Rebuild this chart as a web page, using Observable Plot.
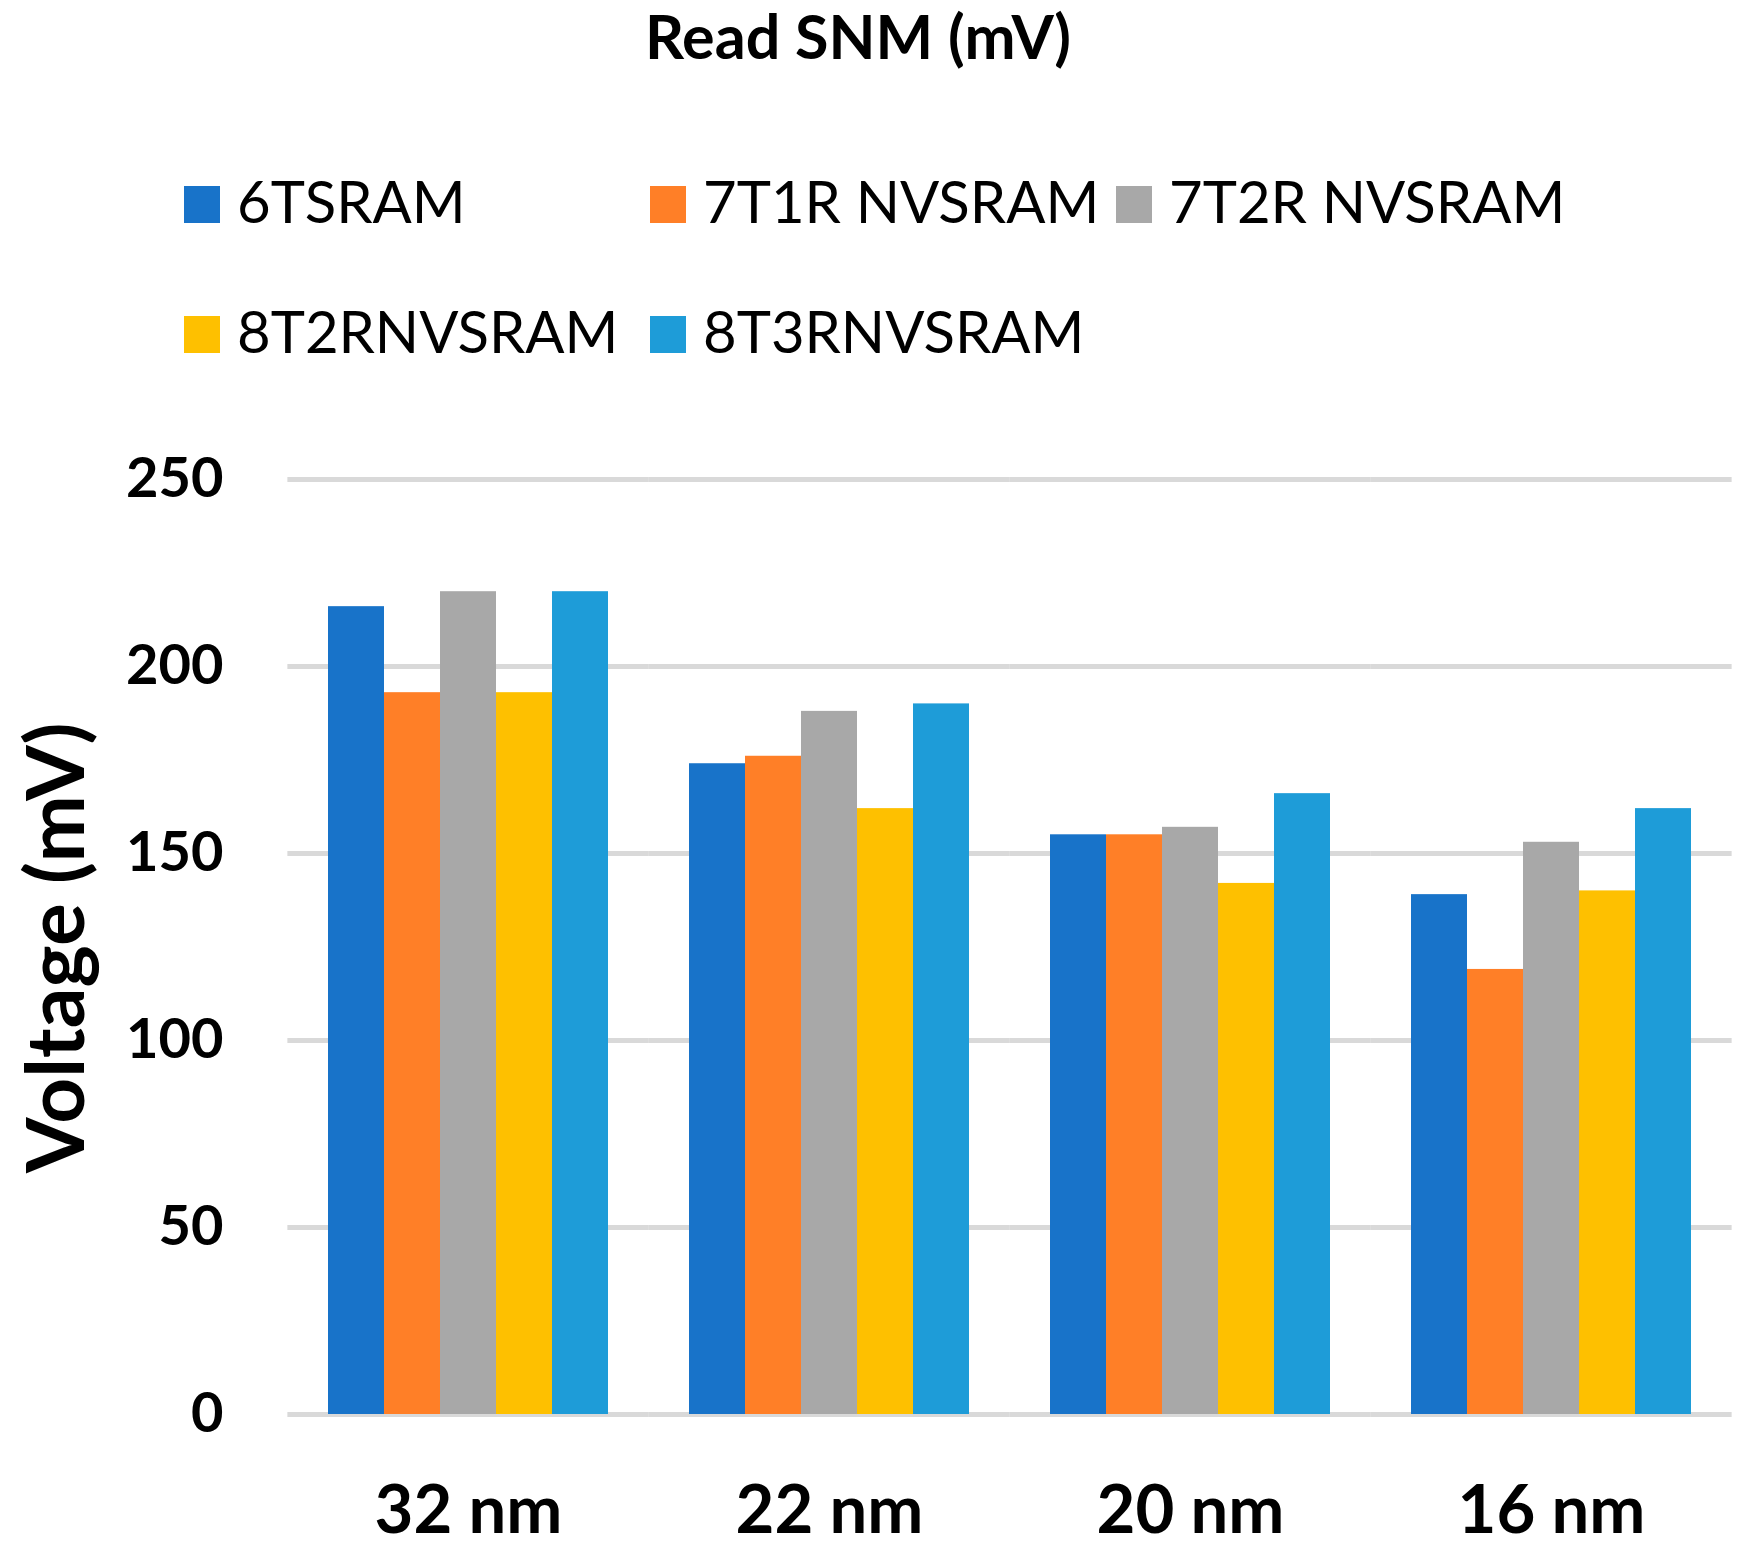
<!DOCTYPE html>
<html>
<head>
<meta charset="utf-8">
<script src="https://cdn.jsdelivr.net/npm/d3@7"></script>
<script src="https://cdn.jsdelivr.net/npm/@observablehq/plot@0.6"></script>
<style>
  body { margin: 0; background: #fff; font-family: Lato, sans-serif; }
  #header { position: relative; width: 1752px; height: 400px; }
  #title { position: absolute; left: 0; width: 1716px; text-align: center; font-weight: bold; font-size: 61px; line-height: 1; top: 5px; }
  .sw { position: absolute; width: 36px; height: 37px; }
  .lt { position: absolute; font-size: 58px; line-height: 1; white-space: nowrap; }
</style>
</head>
<body>
<div id="header"><div id="title">Read SNM (mV)</div></div>
<div id="chart"></div>
<script>
const nodes = ["32 nm", "22 nm", "20 nm", "16 nm"]
const series = ["6TSRAM", "7T1R NVSRAM", "7T2R NVSRAM", "8T2RNVSRAM", "8T3RNVSRAM"]
const colors = ["#1873c9", "#ff7f27", "#a8a8a8", "#fec000", "#1e9cd8"]

// valores (mV), en el orden de nodes
const sram6t = [216, 174, 155, 139]
const nv7t1r = [193, 176, 155, 119]
const nv7t2r = [220, 188, 157, 153]
const nv8t2r = [193, 162, 142, 140]
const nv8t3r = [220, 190, 166, 162]
const yTicks = [0, 50, 100, 150, 200, 250]
const yLabel = "Voltage (mV)"

const values = [sram6t, nv7t1r, nv7t2r, nv8t2r, nv8t3r]
const data = nodes.flatMap((n, j) => series.map((s, i) => ({node: n, series: s, value: values[i][j]})))

// leyenda en dos filas, como en el original
const header = d3.select('#header')
series.forEach((s, i) => {
  const row = i < 3 ? 0 : 1
  const col = i < 3 ? i : i - 3
  const left = 184 + col * 466
  header.append('div').attr('class', 'sw')
    .style('left', left + 'px').style('top', (row ? 316 : 186) + 'px')
    .style('background', colors[i])
  header.append('div').attr('class', 'lt')
    .style('left', (left + 53) + 'px').style('top', (row ? 302 : 172) + 'px')
    .text(s)
})

const W = 1752, mL = 287, mR = 20
const padIn = 0.225, padOut = 0.1125
// la grilla se dibuja por faceta y se estira sobre los huecos entre grupos
const step = (W - mL - mR) / (nodes.length - padIn + 2 * padOut)
const halfGap = padOut * step

const chart = Plot.plot({
  width: W,
  height: 1155,
  marginTop: 79,
  marginBottom: 141,
  marginLeft: mL,
  marginRight: mR,
  style: {fontFamily: 'Lato', background: 'white', color: 'black'},
  fx: {domain: nodes, paddingInner: padIn, paddingOuter: padOut, label: null},
  x: {domain: series, padding: 0, axis: null},
  y: {domain: [0, 250], axis: null},
  color: {domain: series, range: colors},
  marks: [
    Plot.ruleY(yTicks, {stroke: '#d9d9d9', strokeWidth: 5, insetLeft: -halfGap, insetRight: -halfGap}),
    Plot.barY(data, {fx: 'node', x: 'series', y: 'value', fill: 'series'}),
    Plot.axisFx({anchor: 'bottom', tickSize: 0, tickPadding: 71, fontSize: 67, fontWeight: 'bold', label: null}),
    Plot.axisY(yTicks, {anchor: 'left', tickSize: 0, tickPadding: 105, fontSize: 56, fontWeight: 'bold', label: null}),
    // titulo del eje Y, solo en la primera faceta
    Plot.text([{node: nodes[0], label: yLabel}], {fx: 'node', frameAnchor: 'left', rotate: -90, dx: -270, dy: 226, fontSize: 80, fontWeight: 'bold', text: 'label'})
  ]
})

d3.select('#chart').append(() => chart)
</script>
</body>
</html>
